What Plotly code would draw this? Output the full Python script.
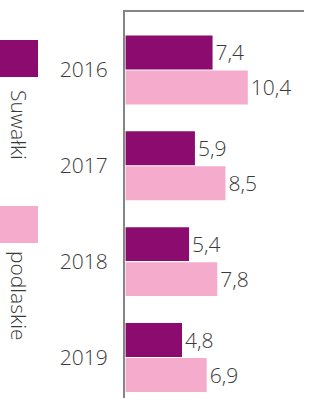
import plotly.graph_objects as go

years = ["2016", "2017", "2018", "2019"]
suwalki = [7.4, 5.9, 5.4, 4.8]
podlaskie = [10.4, 8.5, 7.8, 6.9]
series_names = ["Suwałki", "podlaskie"]
colors = ["#8B0B6E", "#F5ABCC"]

W, H = 315, 398
L, R, T, B = 125, 11, 12, 0
PW, PH = W - L - R, H - T - B

def px_x(px):
    return (px - L) / PW

def px_y(py):
    return (H - B - py) / PH

def fmt(v):
    return f"{v:.1f}".replace(".", ",")

pos = list(range(len(years)))
FONT = "Open Sans"
FS = 21
WT = 300
TXT = "#3a3a3a"

fig = go.Figure()
for name, vals, col in zip(series_names, [suwalki, podlaskie], colors):
    fig.add_trace(go.Bar(
        y=pos, x=vals, orientation="h", name=name,
        marker=dict(color=col, line=dict(width=0)),
        text=[fmt(v) for v in vals], textposition="outside",
        textfont=dict(family=FONT, size=FS, color=TXT, weight=WT),
        cliponaxis=False, showlegend=False,
    ))

fig.update_layout(
    width=W, height=H,
    margin=dict(l=L, r=R, t=T, b=B),
    paper_bgcolor="white", plot_bgcolor="white",
    barmode="group", bargap=0.27, bargroupgap=0.03,
    font=dict(family=FONT, size=FS, color=TXT, weight=WT),
    xaxis=dict(range=[-0.05, 15.18], showgrid=False, zeroline=False,
               showticklabels=False, showline=True, side="top",
               linecolor="#858585", linewidth=2, fixedrange=True),
    yaxis=dict(range=[3.423, -0.605], tickmode="array", tickvals=pos,
               ticktext=years, showgrid=False, zeroline=False,
               showline=True, linecolor="#858585", linewidth=2,
               ticks="", ticklabelstandoff=11,
               tickfont=dict(family=FONT, size=FS, color=TXT, weight=WT)),
)

# manual legend
legend_boxes = [(40, 77), (206, 243)]
legend_text_y = [125, 296]
for (y0, y1), ty, name, col in zip(legend_boxes, legend_text_y, series_names, colors):
    fig.add_shape(type="rect", xref="paper", yref="paper",
                  x0=px_x(0), x1=px_x(38), y0=px_y(y1), y1=px_y(y0),
                  fillcolor=col, line=dict(width=0))
    fig.add_annotation(xref="paper", yref="paper", x=px_x(19), y=px_y(ty),
                       text=name, textangle=90, showarrow=False,
                       xanchor="center", yanchor="middle",
                       font=dict(family=FONT, size=FS, color=TXT, weight=WT))

fig.write_html("out.html", config={"displayModeBar": False},
               post_script="document.body.style.margin='0';document.body.style.padding='0';document.body.style.overflow='hidden';")
